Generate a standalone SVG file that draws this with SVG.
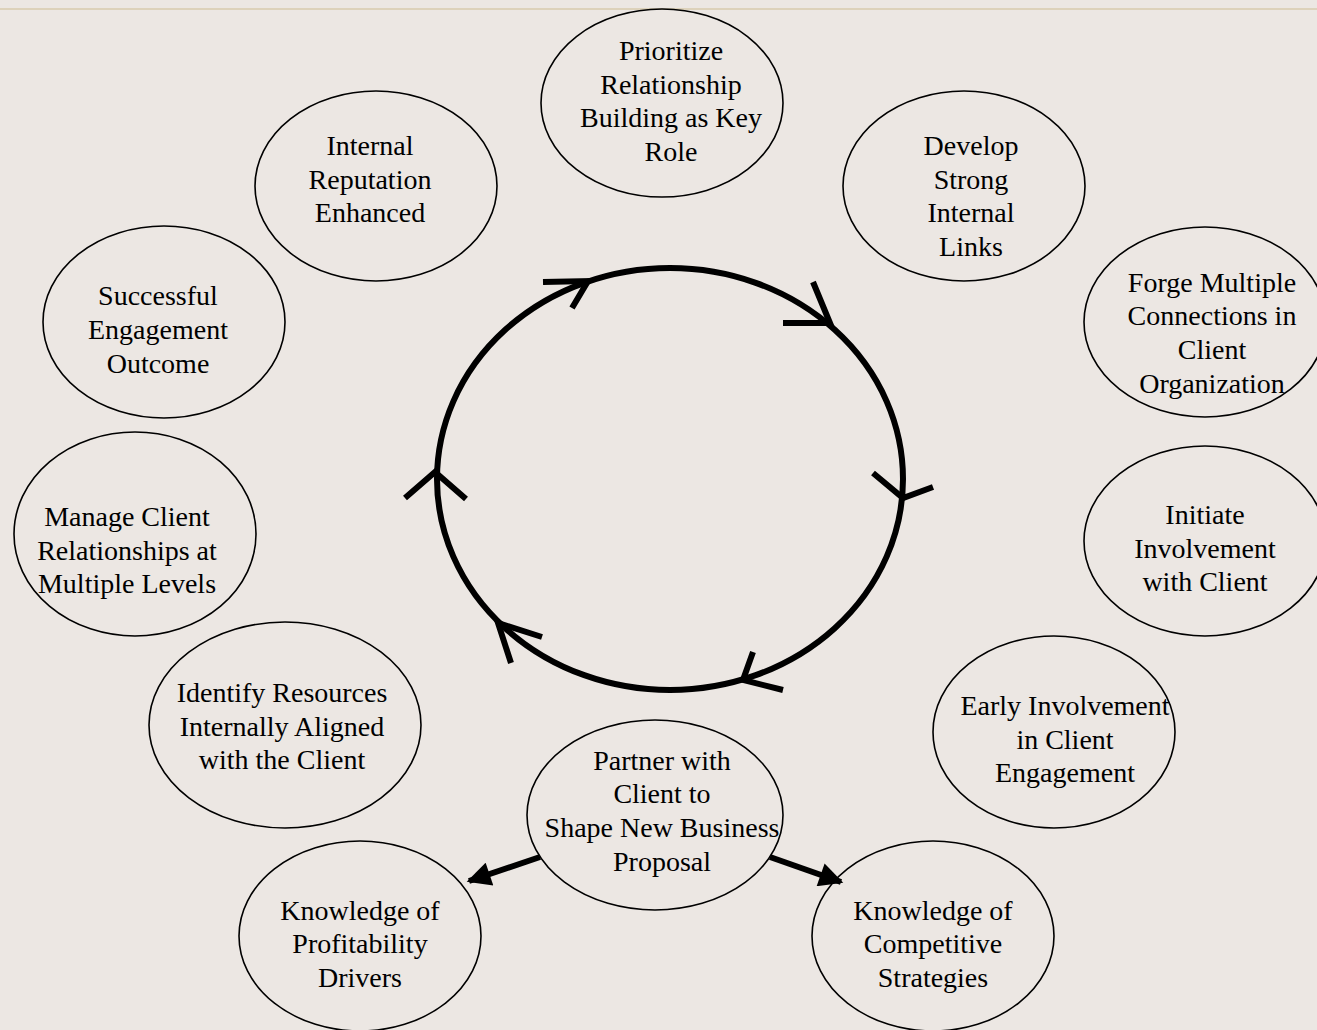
<svg xmlns="http://www.w3.org/2000/svg" width="1317" height="1030" viewBox="0 0 1317 1030">
<defs>
<style>
.node ellipse{fill:none;stroke:#000;stroke-width:1.6}
.node text{font-family:"Liberation Serif","Times New Roman",serif;font-size:28px;fill:#000;text-anchor:middle}
.cyc{fill:none;stroke:#000;stroke-width:6}
.chev{fill:none;stroke:#000;stroke-width:6;stroke-linecap:butt;stroke-linejoin:miter}
.arr{stroke:#000;stroke-width:6;fill:none}
</style>
<marker id="ah" viewBox="0 0 10 10" refX="9" refY="5" markerWidth="4.2" markerHeight="4" orient="auto" markerUnits="strokeWidth">
<path d="M0,0 L10,5 L0,10 z" fill="#000"/>
</marker>
</defs>
<rect x="0" y="0" width="1317" height="1030" fill="#ece7e3"/>
<line x1="0" y1="9" x2="1317" y2="9" stroke="#ddd2bb" stroke-width="2"/>

<g id="connectors">
<ellipse class="cyc" cx="670" cy="479" rx="233" ry="211"/>
<polyline class="chev" points="543,282 588,281 572,308"/>
<polyline class="chev" points="783,323 830,323 813,282"/>
<polyline class="chev" points="873,473 903,498 933,487"/>
<polyline class="chev" points="405,498 435,472 466,499"/>
<polyline class="chev" points="542,637 498,623 511,663"/>
<polyline class="chev" points="753,652 743,680 783,690"/>
<line class="arr" x1="540" y1="857" x2="469" y2="881" marker-end="url(#ah)"/>
<line class="arr" x1="770" y1="857" x2="841" y2="882" marker-end="url(#ah)"/>
</g>

<g id="n-prioritize" class="node">
<ellipse cx="662" cy="103" rx="121" ry="94"/>
<text x="671" y="60">Prioritize</text>
<text x="671" y="94">Relationship</text>
<text x="671" y="127">Building as Key</text>
<text x="671" y="161">Role</text>
</g>
<g id="n-reputation" class="node">
<ellipse cx="376" cy="186" rx="121" ry="95"/>
<text x="370" y="155">Internal</text>
<text x="370" y="189">Reputation</text>
<text x="370" y="222">Enhanced</text>
</g>
<g id="n-develop" class="node">
<ellipse cx="964" cy="186" rx="121" ry="95"/>
<text x="971" y="155">Develop</text>
<text x="971" y="189">Strong</text>
<text x="971" y="222">Internal</text>
<text x="971" y="256">Links</text>
</g>
<g id="n-forge" class="node">
<ellipse cx="1205" cy="322" rx="121" ry="95"/>
<text x="1212" y="292">Forge Multiple</text>
<text x="1212" y="325">Connections in</text>
<text x="1212" y="359">Client</text>
<text x="1212" y="393">Organization</text>
</g>
<g id="n-successful" class="node">
<ellipse cx="164" cy="322" rx="121" ry="96"/>
<text x="158" y="305">Successful</text>
<text x="158" y="339">Engagement</text>
<text x="158" y="373">Outcome</text>
</g>
<g id="n-manage" class="node">
<ellipse cx="135" cy="534" rx="121" ry="102"/>
<text x="127" y="526">Manage Client</text>
<text x="127" y="560">Relationships at</text>
<text x="127" y="593">Multiple Levels</text>
</g>
<g id="n-initiate" class="node">
<ellipse cx="1205" cy="541" rx="121" ry="95"/>
<text x="1205" y="524">Initiate</text>
<text x="1205" y="558">Involvement</text>
<text x="1205" y="591">with Client</text>
</g>
<g id="n-identify" class="node">
<ellipse cx="285" cy="725" rx="136" ry="103"/>
<text x="282" y="702">Identify Resources</text>
<text x="282" y="736">Internally Aligned</text>
<text x="282" y="769">with the Client</text>
</g>
<g id="n-early" class="node">
<ellipse cx="1054" cy="732" rx="121" ry="96"/>
<text x="1065" y="715">Early Involvement</text>
<text x="1065" y="749">in Client</text>
<text x="1065" y="782">Engagement</text>
</g>
<g id="n-partner" class="node">
<ellipse cx="655" cy="815" rx="128" ry="95"/>
<text x="662" y="770">Partner with</text>
<text x="662" y="803">Client to</text>
<text x="662" y="837">Shape New Business</text>
<text x="662" y="871">Proposal</text>
</g>
<g id="n-profit" class="node">
<ellipse cx="360" cy="936" rx="121" ry="95"/>
<text x="360" y="920">Knowledge of</text>
<text x="360" y="953">Profitability</text>
<text x="360" y="987">Drivers</text>
</g>
<g id="n-compet" class="node">
<ellipse cx="933" cy="936" rx="121" ry="95"/>
<text x="933" y="920">Knowledge of</text>
<text x="933" y="953">Competitive</text>
<text x="933" y="987">Strategies</text>
</g>
</svg>
